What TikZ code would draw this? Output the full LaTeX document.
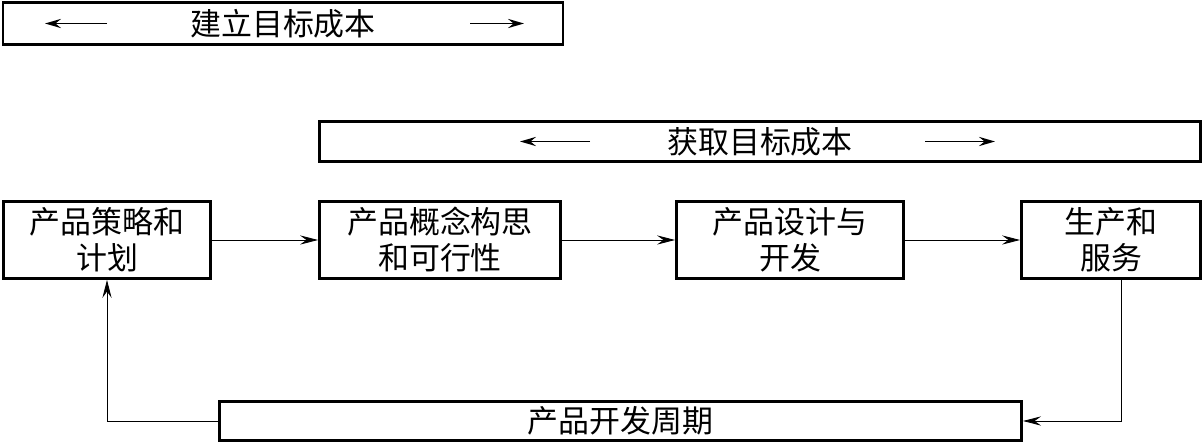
\documentclass[tikz,border=0pt]{standalone}
\usepackage{fontspec}
\setmainfont{Noto Sans CJK SC}
\usetikzlibrary{arrows.meta}

\begin{document}
\begin{tikzpicture}[x=0.025cm,y=-0.025cm,
  box/.style={draw, line width=2pt, align=center, inner sep=0pt,
    font=\fontsize{22}{25.6}\selectfont},
  link/.style={line width=0.6pt, -{Stealth[length=4.5mm,width=2.3mm,inset=1.6mm]}},
  span/.style={line width=1.3pt, -{Stealth[length=4mm,width=2.3mm,inset=1.4mm]}}]
\useasboundingbox (0,0) rectangle (1204,444);

% target cost bars
\node[box, minimum width=14.0cm, minimum height=1.05cm] (build) at (283,23.5) {建立目标成本};
\coordinate (buildL) at (107,23.5);
\coordinate (buildLtip) at (45,23.5);
\coordinate (buildR) at (470,23.5);
\coordinate (buildRtip) at (524,23.5);
\draw[span] (buildL) -- (buildLtip);
\draw[span] (buildR) -- (buildRtip);

\node[box, minimum width=22.03cm, minimum height=1.0cm] (gain) at (760,141.5) {获取目标成本};
\coordinate (gainL) at (590,141.5);
\coordinate (gainLtip) at (520,141.5);
\coordinate (gainR) at (925,141.5);
\coordinate (gainRtip) at (995,141.5);
\draw[span] (gainL) -- (gainLtip);
\draw[span] (gainR) -- (gainRtip);

% stages
\node[box, minimum width=5.175cm, minimum height=1.925cm] (plan) at (107,240) {产品策略和\\计划};
\node[box, minimum width=6.025cm, minimum height=1.925cm] (concept) at (440,240) {产品概念构思\\和可行性};
\node[box, minimum width=5.675cm, minimum height=1.925cm] (design) at (790,240) {产品设计与\\开发};
\node[box, minimum width=4.475cm, minimum height=1.925cm] (serve) at (1111,240) {生产和\\服务};

\node[box, minimum width=20.05cm, minimum height=0.975cm] (cycle) at (620.5,421) {产品开发周期};

\draw[link] (plan) -- (concept);
\draw[link] (concept) -- (design);
\draw[link] (design) -- (serve);
\draw[link] ([xshift=0.25cm]serve.south) |- (cycle.east);
\draw[link] (cycle.west) -| (plan.south);
\end{tikzpicture}
\end{document}
